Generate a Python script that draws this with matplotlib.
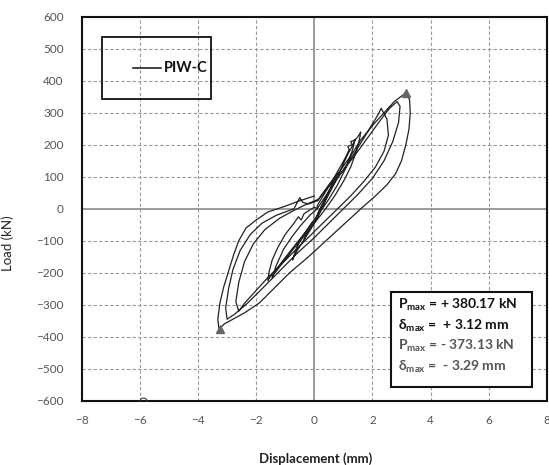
import numpy as np
import matplotlib
matplotlib.use('Agg')
from matplotlib import pyplot as plt
from matplotlib.patches import Rectangle

plt.rcParams['font.family'] = ['Lato', 'DejaVu Sans']

# hysteresis cycles (displacement mm, load kN)
cyc0_d = [0.0, 0.15, 0.3, 0.35, 0.2, 0.05, -0.15, -0.3, -0.35, -0.2, -0.05, 0.0]
cyc0_p = [-40, -15, 10, 25, 0, -30, -60, -85, -95, -70, -50, -40]

cyc1_d = [0.0, 0.2, 0.45, 0.65, 0.75, 0.6, 0.35, 0.1, -0.2, -0.45, -0.65, -0.75, -0.6, -0.35, -0.1, 0.05]
cyc1_p = [-40, 0, 45, 85, 105, 70, 20, -30, -75, -110, -140, -160, -120, -80, -45, -30]

cyc2_d = [0.05, 0.35, 0.7, 0.95, 1.15, 1.3, 1.4, 1.3, 1.1, 0.8, 0.5, 0.2, -0.15, -0.5, -0.85, -1.15, -1.35, -1.45,
          -1.3, -1.05, -0.75, -0.45, -0.15, 0.1]
cyc2_p = [-30, 20, 80, 130, 170, 195, 215, 180, 130, 75, 30, -10, -55, -95, -135, -170, -195, -215,
          -175, -125, -85, -50, -20, 0]

cyc6_d = [0.1, 0.4, 0.7, 0.95, 1.1, 1.2, 1.15, 1.3, 1.25, 1.4, 1.5, 1.6, 1.55, 1.45, 1.25, 1.0, 0.7, 0.35,
          0.0, -0.4, -0.8, -1.1, -1.35, -1.5, -1.6, -1.55, -1.45, -1.25, -1.0, -0.7, -0.55, -0.45, -0.35, 0.0]
cyc6_p = [10, 55, 100, 140, 165, 185, 195, 200, 210, 215, 225, 240, 215, 180, 130, 85, 40, -5,
          -45, -90, -135, -170, -200, -210, -225, -195, -160, -120, -80, -45, -25, -35, -15, 5]

cyc3_d = [0.1, 0.5, 0.95, 1.35, 1.7, 2.0, 2.2, 2.3, 2.5, 2.55, 2.4, 2.1, 1.7, 1.25, 0.8, 0.35, -0.1, -0.6,
          -1.1, -1.6, -2.05, -2.4, -2.6, -2.7, -2.6, -2.4, -2.1, -1.7, -1.2, -0.7, -0.25, 0.15]
cyc3_p = [0, 55, 115, 170, 220, 265, 295, 314, 280, 230, 180, 130, 85, 40, 0, -40, -80, -125,
          -170, -215, -260, -295, -320, -290, -230, -165, -110, -65, -30, -5, 15, 30]

cyc5_d = [0.1, 0.5, 1.0, 1.5, 1.9, 2.3, 2.6, 2.85, 2.95, 2.9, 2.7, 2.4, 2.0, 1.5, 1.0, 0.5, 0.0, -0.6,
          -1.2, -1.8, -2.3, -2.75, -3.0, -3.05, -2.95, -2.8, -2.55, -2.2, -1.8, -1.3, -0.7, -0.5, -0.4, -0.2, 0.1]
cyc5_p = [25, 70, 120, 180, 230, 280, 315, 335, 320, 270, 210, 150, 95, 45, 0, -45, -90, -140,
          -195, -250, -295, -330, -345, -310, -250, -190, -130, -80, -45, -20, 0, 35, 20, 15, 25]

cyc4_d = [0.15, 0.5, 0.9, 1.25, 1.6, 2.0, 2.4, 2.75, 3.0, 3.15, 3.28, 3.3, 3.26, 3.15, 3.0, 2.8, 2.5, 2.1,
          1.6, 1.0, 0.4, -0.2, -0.85, -1.4, -1.9, -2.4, -2.8, -3.1, -3.28, -3.32, -3.25, -3.12, -2.95,
          -2.78, -2.6, -2.35, -2.0, -1.6, -1.1, -0.5, 0.0]
cyc4_p = [30, 75, 120, 165, 215, 260, 300, 335, 352, 362, 340, 300, 250, 200, 150, 110, 75, 40,
          0, -50, -100, -150, -200, -250, -295, -325, -345, -360, -377, -345, -295, -245, -195,
          -145, -100, -60, -35, -10, 5, 25, 40]

peak_d = [3.15, -3.26]
peak_p = [362, -377]

xticks = [-8, -6, -4, -2, 0, 2, 4, 6, 8]
yticks = [-600, -500, -400, -300, -200, -100, 0, 100, 200, 300, 400, 500, 600]

info_lines = [('P', ' = + 380.17 kN', '#111111'),
              ('δ', ' =  + 3.12 mm', '#111111'),
              ('P', ' = - 373.13 kN', '#555555'),
              ('δ', ' =  - 3.29 mm', '#555555')]

fig = plt.figure(figsize=(5.49, 4.65), dpi=100)
ax = fig.add_axes([0.149, 0.138, 0.847, 0.826])

for v in xticks[1:-1]:
    if v == 0:
        ax.axvline(v, color='#8a8a8a', lw=1.2, zorder=1)
    else:
        ax.axvline(v, color='#9a9a9a', lw=0.8, ls=(0, (3, 2)), zorder=1)
for v in yticks[1:-1]:
    if v == 0:
        ax.axhline(v, color='#8a8a8a', lw=1.2, zorder=1)
    else:
        ax.axhline(v, color='#9a9a9a', lw=0.8, ls=(0, (3, 2)), zorder=1)

d = cyc0_d + cyc1_d + cyc2_d + cyc6_d + cyc3_d + cyc5_d + cyc4_d
p = cyc0_p + cyc1_p + cyc2_p + cyc6_p + cyc3_p + cyc5_p + cyc4_p
ax.plot(d, p, color='#222222', lw=0.9, zorder=3)
ax.plot(peak_d, peak_p, ls='none', marker='^', ms=6, color='#666666', zorder=4)
ax.plot([-5.9], [-600], ls='none', marker='o', ms=5, mfc='none', mec='#333333', mew=0.8, zorder=4)

ax.set_xlim(-8, 8)
ax.set_ylim(-600, 600)
ax.set_xticks(xticks)
ax.set_yticks(yticks)
ax.tick_params(length=0, labelsize=8.5, labelcolor='#555555')
ax.tick_params(axis='y', pad=13)
ax.tick_params(axis='x', pad=10)
for s in ax.spines.values():
    s.set_linewidth(1.5)
    s.set_color('#111111')

ax.set_xlabel('Displacement (mm)', fontsize=9.5, fontweight='bold', color='#222222')
ax.xaxis.set_label_coords(0.503, -0.133)
ax.set_ylabel('Load (kN)', fontsize=9.5, color='#222222')
ax.yaxis.set_label_coords(-0.146, 0.41)

# legend box
ax.add_patch(Rectangle((0.043, 0.786), 0.234, 0.162, transform=ax.transAxes,
                       fill=False, ec='#111111', lw=1.3, zorder=5))
ax.plot([0.11, 0.17], [0.867, 0.867], transform=ax.transAxes, color='#111111', lw=1.1, zorder=5)
ax.text(0.176, 0.867, 'PIW-C', transform=ax.transAxes, fontsize=10.5, fontweight='bold',
        va='center', ha='left', color='#111111', zorder=5)

# info box
ax.add_patch(Rectangle((0.665, 0.036), 0.303, 0.248, transform=ax.transAxes,
                       fc='white', ec='#111111', lw=1.5, zorder=5))
for i, (sym, rest, col) in enumerate(info_lines):
    y = 0.250 - i * 0.054
    ax.text(0.68, y, sym + r'$_{\mathregular{max}}$' + rest, transform=ax.transAxes,
            fontsize=10, fontweight='bold', color=col, va='center', ha='left', zorder=6)

fig.savefig('out.png', dpi=100)
